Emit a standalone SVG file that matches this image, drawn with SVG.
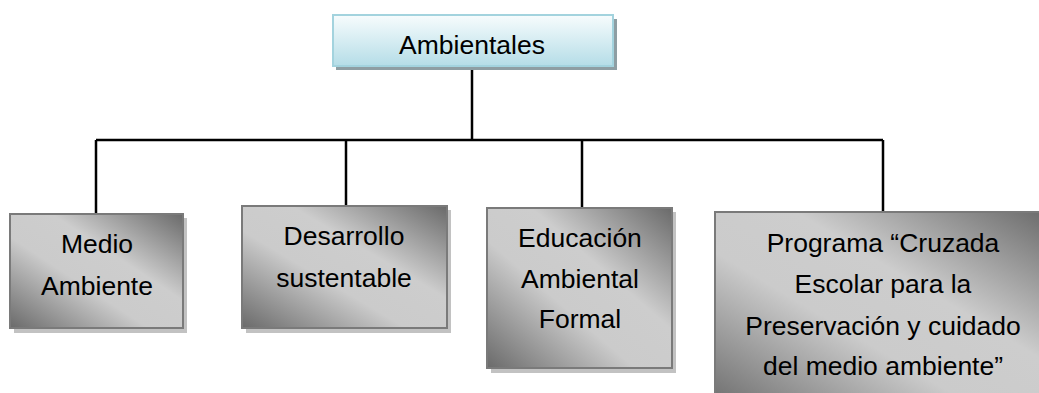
<svg xmlns="http://www.w3.org/2000/svg" width="1039" height="393" viewBox="0 0 1039 393">
  <style>
    .t { font-family: "Liberation Sans", Arial, sans-serif; font-size: 26.5px; fill: #000; text-anchor: middle; }
    .box { fill: url(#silver); stroke: #7a7a7a; stroke-width: 2; }
    .shadow { fill: #c2c2c2; }
    .conn { stroke: #000; stroke-width: 2.5; fill: none; }
  </style>
  <defs>
    <linearGradient id="silver" x1="0" y1="1" x2="1" y2="0">
      <stop offset="0" stop-color="#6a6a6a"/>
      <stop offset="0.4" stop-color="#cbcbcb"/>
      <stop offset="0.62" stop-color="#cdcdcd"/>
      <stop offset="1" stop-color="#6a6a6a"/>
    </linearGradient>
    <linearGradient id="blue" x1="0" y1="0" x2="0" y2="1">
      <stop offset="0" stop-color="#f7fcfd"/>
      <stop offset="1" stop-color="#b5dde7"/>
    </linearGradient>
  </defs>
  <rect width="1039" height="393" fill="#fff"/>

  <g id="connectors">
    <path class="conn" d="M472 66 V140 M96 140 H883 M96 140 V214 M346 140 V206 M582 140 V208 M883 140 V212"/>
  </g>

  <g id="ambientales">
    <rect x="336" y="19" width="281" height="51" fill="#8e9ea3"/>
    <rect x="333" y="15" width="280" height="51" fill="url(#blue)" stroke="#a3d3de" stroke-width="2"/>
    <text class="t" x="472" y="54">Ambientales</text>
  </g>

  <g id="medio-ambiente">
    <rect class="shadow" x="14" y="218" width="173" height="115"/>
    <rect class="box" x="10" y="214" width="173" height="114"/>
    <text class="t" x="97" y="253">Medio</text>
    <text class="t" x="97" y="295">Ambiente</text>
  </g>

  <g id="desarrollo-sustentable">
    <rect class="shadow" x="246" y="210" width="205" height="123"/>
    <rect class="box" x="242" y="206" width="205" height="122"/>
    <text class="t" x="344" y="245">Desarrollo</text>
    <text class="t" x="344" y="287">sustentable</text>
  </g>

  <g id="educacion-ambiental-formal">
    <rect class="shadow" x="491" y="212" width="185" height="161"/>
    <rect class="box" x="487" y="208" width="185" height="160"/>
    <text class="t" x="580" y="247">Educación</text>
    <text class="t" x="580" y="288">Ambiental</text>
    <text class="t" x="580" y="328">Formal</text>
  </g>

  <g id="programa-cruzada">
    <rect class="box" x="715" y="212" width="335" height="200"/>
    <text class="t" x="883" y="252">Programa “Cruzada</text>
    <text class="t" x="883" y="293">Escolar para la</text>
    <text class="t" x="883" y="335">Preservación y cuidado</text>
    <text class="t" x="883" y="375">del medio ambiente”</text>
  </g>
</svg>
